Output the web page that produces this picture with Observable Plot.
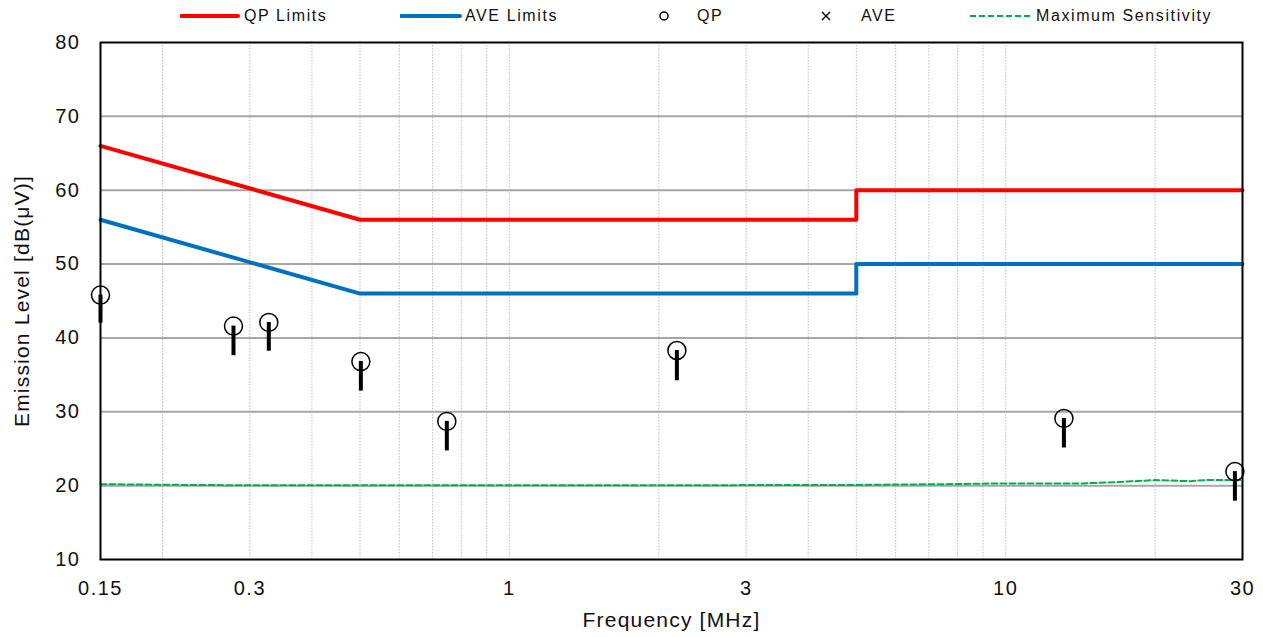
<!DOCTYPE html>
<html>
<head>
<meta charset="utf-8">
<script src="https://cdn.jsdelivr.net/npm/d3@7"></script>
<script src="https://cdn.jsdelivr.net/npm/@observablehq/plot@0.6"></script>
<style>
  html, body { margin: 0; padding: 0; background: #fff; }
  #wrap { position: relative; width: 1263px; height: 637px; font-family: "Liberation Sans", Arial, sans-serif; }
  #legend { position: relative; width: 1263px; height: 32px; }
  .lg { position: absolute; top: 0; height: 32px; line-height: 32px; font-size: 16px; letter-spacing: 1.6px; color: #111; white-space: nowrap; }
  .sw { position: absolute; top: 0; }
  #chart g[aria-label="x-axis tick label"] text,
  #chart g[aria-label="y-axis tick label"] text { letter-spacing: 1.5px; }
  #chart g[aria-label="text"] text { letter-spacing: 1.2px; }
</style>
</head>
<body>
<div id="wrap">
  <div id="legend"></div>
  <div id="chart"></div>
</div>
<script>
// ---- data ----
const qpLimitFreq  = [0.15, 0.5, 5, 5, 30];
const qpLimitLevel = [66, 56, 56, 60, 60];
const aveLimitFreq  = [0.15, 0.5, 5, 5, 30];
const aveLimitLevel = [56, 46, 46, 50, 50];

const qpFreq  = [0.15, 0.278, 0.3275, 0.502, 0.748, 2.175, 13.1, 28.96];
const qpLevel = [45.8, 41.6, 42.1, 36.8, 28.7, 38.3, 29.1, 21.9];
const barLow  = [42.0, 37.6, 38.2, 32.8, 24.7, 34.2, 25.1, 17.9];

const sensFreq  = [0.15, 0.2, 0.29, 0.5, 0.96, 2.4, 5, 7.5, 9.7, 14.3, 17, 20, 23.6, 25.2, 30];
const sensLevel = [20.2, 20.12, 20.05, 20.05, 20.06, 20.06, 20.1, 20.2, 20.3, 20.3, 20.5, 20.75, 20.6, 20.75, 20.75];

const xTicks = [0.15, 0.3, 1, 3, 10, 30];
const xGrid  = [0.2,0.3,0.4,0.5,0.6,0.7,0.8,0.9,1,2,3,4,5,6,7,8,9,10,20];
const yTicks = [10, 20, 30, 40, 50, 60, 70, 80];
const yGrid  = [20, 30, 40, 50, 60, 70];

const legendItems = ["QP Limits", "AVE Limits", "QP", "AVE", "Maximum Sensitivity"];

// ---- tables ----
const qpLim  = qpLimitFreq.map((f, i) => ({f, v: qpLimitLevel[i]}));
const aveLim = aveLimitFreq.map((f, i) => ({f, v: aveLimitLevel[i]}));
const qp     = qpFreq.map((f, i) => ({f, v: qpLevel[i], low: barLow[i]}));
const sens   = sensFreq.map((f, i) => ({f, v: sensLevel[i]}));

const chart = Plot.plot({
  width: 1263,
  height: 605,
  marginTop: 10,
  marginLeft: 100,
  marginRight: 21,
  marginBottom: 78,
  style: { fontFamily: "'Liberation Sans', Arial, sans-serif", fontSize: "20px", background: "white", color: "#111", overflow: "visible" },
  x: { type: "log", domain: [0.15, 30] },
  y: { domain: [10, 80] },
  marks: [
    Plot.gridX(xGrid, { stroke: "#bdbdbd", strokeOpacity: 1, strokeWidth: 1, strokeDasharray: "1.5,1.5" }),
    Plot.gridY(yGrid, { stroke: "#a6a6a6", strokeOpacity: 1, strokeWidth: 2 }),
    Plot.axisX(xTicks, { tickSize: 0, tickPadding: 21, fontSize: 20, tickFormat: d => String(d), label: null }),
    Plot.axisY(yTicks, { tickSize: 0, tickPadding: 20, fontSize: 20, label: null }),
    Plot.line(sens, { x: "f", y: "v", stroke: "#00b050", strokeWidth: 2, strokeDasharray: "6,3" }),
    Plot.line(qpLim, { x: "f", y: "v", stroke: "#ff0000", strokeWidth: 4 }),
    Plot.line(aveLim, { x: "f", y: "v", stroke: "#0070c0", strokeWidth: 4 }),
    Plot.frame({ stroke: "black", strokeWidth: 2 }),
    Plot.ruleX(qp, { x: "f", y1: "low", y2: "v", stroke: "black", strokeWidth: 4 }),
    Plot.dot(qp, { x: "f", y: "v", r: 9, stroke: "black", strokeWidth: 1.5, fill: "none" }),
    Plot.text(["Frequency [MHz]"], { frameAnchor: "bottom", dy: 67, fontSize: 21, fill: "#111" }),
    Plot.text(["Emission Level [dB(μV)]"], { frameAnchor: "left", textAnchor: "middle", dx: -78, rotate: -90, fontSize: 21, fill: "#111" })
  ]
});
document.getElementById("chart").appendChild(chart);

// ---- legend ----
const lg = document.getElementById("legend");
const ns = "http://www.w3.org/2000/svg";
function swatch(x, w, draw) {
  const s = document.createElementNS(ns, "svg");
  s.setAttribute("width", w); s.setAttribute("height", 32);
  s.setAttribute("class", "sw");
  s.style.left = x + "px";
  s.innerHTML = draw;
  lg.appendChild(s);
}
function label(x, t) {
  const d = document.createElement("div");
  d.className = "lg"; d.style.left = x + "px"; d.textContent = t;
  lg.appendChild(d);
}
swatch(180, 60, '<line x1="1" y1="16" x2="58" y2="16" stroke="#ff0000" stroke-width="4" stroke-linecap="round"/>');
label(244, legendItems[0]);
swatch(400, 62, '<line x1="1" y1="16" x2="60" y2="16" stroke="#0070c0" stroke-width="4" stroke-linecap="round"/>');
label(465, legendItems[1]);
swatch(655, 20, '<circle cx="9" cy="16" r="4" stroke="#000" stroke-width="1.5" fill="none"/>');
label(697, legendItems[2]);
swatch(816, 20, '<path d="M6 12 L14 20 M14 12 L6 20" stroke="#000" stroke-width="1.4"/>');
label(861, legendItems[3]);
swatch(970, 62, '<line x1="0" y1="16" x2="60" y2="16" stroke="#00b050" stroke-width="2" stroke-dasharray="6,3"/>');
label(1036, legendItems[4]);
</script>
</body>
</html>
